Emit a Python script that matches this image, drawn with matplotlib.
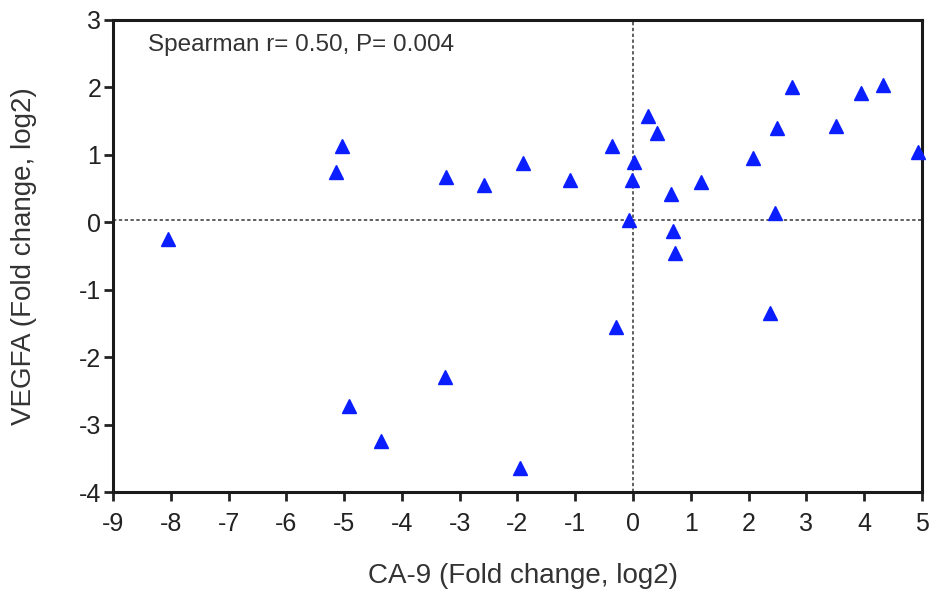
import numpy as np
import matplotlib.pyplot as plt

plt.rcParams['font.family'] = ['Liberation Sans', 'DejaVu Sans']
plt.rcParams['axes.unicode_minus'] = False

# CA-9 vs VEGFA fold change (log2)
ca9 = [-8.05, -5.14, -5.04, -4.92, -4.36, -3.24, -3.25, -2.58, -1.91, -1.96,
       -1.09, -0.37, 0.02, -0.02, -0.07, 0.25, 0.42, 0.66, 0.69, 0.72,
       1.18, 2.07, 2.37, 2.45, 2.49, 2.75, 3.51, 3.94, 4.32, 4.93, -0.30]
vegfa = [-0.25, 0.74, 1.13, -2.72, -3.25, 0.67, -2.30, 0.56, 0.88, -3.65,
         0.62, 1.13, 0.90, 0.63, 0.03, 1.57, 1.32, 0.42, -0.13, -0.46,
         0.60, 0.96, -1.35, 0.14, 1.40, 2.00, 1.43, 1.92, 2.03, 1.04, -1.55]

x_ticks = np.arange(-9, 6)
y_ticks = np.arange(-4, 4)
stats_text = "Spearman r= 0.50, P= 0.004"

fig = plt.figure(figsize=(9.33, 6.04), dpi=100)
ax = fig.add_axes([0.1211, 0.1854, 0.8671, 0.7815])

ax.plot(ca9, vegfa, linestyle='none', marker='^', markersize=10,
        color='#0a1eff', clip_on=False, zorder=3)

# reference lines
ax.axvline(0, color='#444444', linestyle=(0, (2, 1.5)), linewidth=1.2, zorder=1)
ax.axhline(0.04, color='#444444', linestyle=(0, (2, 1.5)), linewidth=1.2, zorder=1)

ax.set_xlim(-9, 5)
ax.set_ylim(-4, 3)
ax.set_xticks(x_ticks)
ax.set_yticks(y_ticks)
ax.tick_params(axis='both', labelsize=18, direction='out', length=6.5, width=2,
               color='#222222', labelcolor='#222222')
ax.tick_params(axis='x', pad=8)
ax.tick_params(axis='y', pad=2)

for s in ax.spines.values():
    s.set_linewidth(2.2)
    s.set_color('#1a1a1a')

ax.set_xlabel("CA-9 (Fold change, log2)", fontsize=20, color='#333333')
ax.set_ylabel("VEGFA (Fold change, log2)", fontsize=20, color='#333333')
ax.xaxis.set_label_coords(0.507, -0.15)
ax.yaxis.set_label_coords(-0.094, 0.5)

ax.text(0.043, 0.947, stats_text, transform=ax.transAxes, fontsize=17.5,
        color='#333333', va='center', ha='left')

plt.savefig("out.png", dpi=100)
